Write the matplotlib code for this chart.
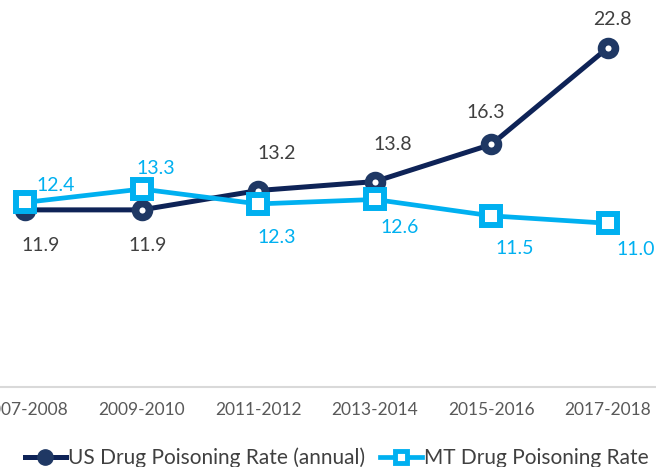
import matplotlib.pyplot as plt
from matplotlib.lines import Line2D

# Data
periods = ["2007-2008", "2009-2010", "2011-2012", "2013-2014", "2015-2016", "2017-2018"]
us_rate = [11.9, 11.9, 13.2, 13.8, 16.3, 22.8]
mt_rate = [12.4, 13.3, 12.3, 12.6, 11.5, 11.0]

# label offsets in pixels (dx, dy), dy positive = up
us_offsets = [(16, -36), (6, -36), (19, 37), (18, 37), (-6, 32), (4, 28)]
mt_offsets = [(31, 17), (14, 21), (19, -34), (25, -28), (23, -33), (28, -26)]

US_COLOR = "#1f3864"
MT_COLOR = "#00b0f0"
FONT = "Lato"

fig = plt.figure(figsize=(6.56, 4.67), dpi=100)
ax = fig.add_axes([0, 80 / 467, 1, 387 / 467])

x = list(range(len(periods)))

ax.plot(x, us_rate, color="#0e2357", linewidth=3.6, marker="o", markersize=10,
        markeredgewidth=5.5, markeredgecolor=US_COLOR, markerfacecolor="white",
        zorder=3)
ax.plot(x, mt_rate, color=MT_COLOR, linewidth=3.4, marker="s", markersize=12.5,
        markeredgewidth=4.3, markeredgecolor=MT_COLOR, markerfacecolor="white",
        zorder=4)
for ln in ax.lines:
    ln.set_solid_joinstyle("round")

for xi, v, off in zip(x, us_rate, us_offsets):
    ax.annotate(f"{v:.1f}", (xi, v), xytext=off, textcoords="offset pixels",
                ha="center", va="center", fontsize=14, color="#404040",
                family=FONT)
for xi, v, off in zip(x, mt_rate, mt_offsets):
    ax.annotate(f"{v:.1f}", (xi, v), xytext=off, textcoords="offset pixels",
                ha="center", va="center", fontsize=14, color=MT_COLOR,
                family=FONT)

ax.set_xlim(-25 / 116.6, 631 / 116.6)
ax.set_ylim(0, 26)
ax.set_xticks(x)
ax.set_xticklabels(periods, fontsize=12.5, color="#595959", family=FONT)
ax.set_yticks([])
ax.tick_params(axis="x", length=0, pad=11)
for s in ["top", "right", "left"]:
    ax.spines[s].set_visible(False)
ax.spines["bottom"].set_color("#d9d9d9")
ax.spines["bottom"].set_linewidth(1.5)

handles = [
    Line2D([], [], color="#0e2357", linewidth=3.6, marker="o", markersize=11,
           markerfacecolor=US_COLOR, markeredgecolor=US_COLOR),
    Line2D([], [], color=MT_COLOR, linewidth=3.4, marker="s", markersize=9,
           markeredgewidth=3.5, markerfacecolor="white", markeredgecolor=MT_COLOR),
]
fig.legend(handles, ["US Drug Poisoning Rate (annual)", "MT Drug Poisoning Rate"],
           loc="center", bbox_to_anchor=(0.513, 9 / 467), ncol=2, frameon=False,
           prop={"family": FONT, "size": 15}, handlelength=2.0,
           handletextpad=0.1, columnspacing=0.7, labelcolor="#404040")

fig.savefig("out.png", dpi=100)
